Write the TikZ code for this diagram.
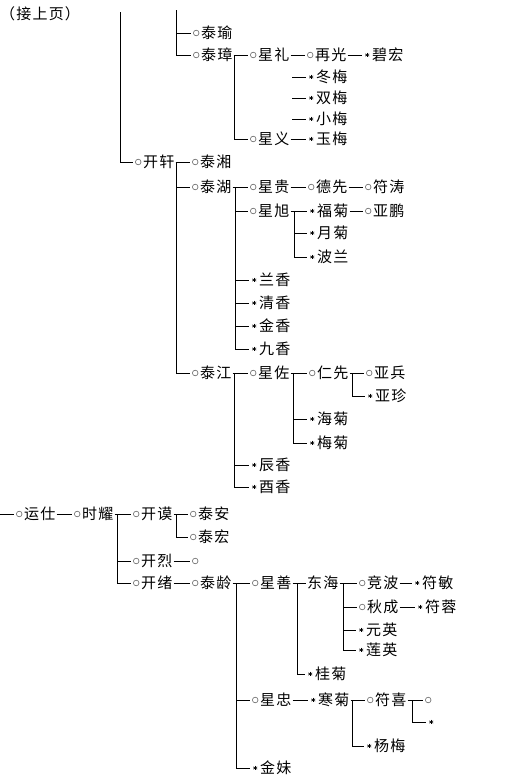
\documentclass[tikz,border=0pt]{standalone}
\usepackage{fontspec}
\usepackage{xcolor}
\usepackage{tikz}
\newfontfamily\cjk[LetterSpace=8]{Noto Sans CJK SC}
\definecolor{genInk}{HTML}{000000}
\definecolor{genRing}{HTML}{6E6E6E}
\newcommand{\mkgap}{\hspace*{9pt}}
\tikzset{
  gennode/.style={anchor=west,inner xsep=1pt,inner ysep=0pt,
                  text height=12.5pt,text depth=1.5pt,
                  font=\cjk\fontsize{15}{18}\selectfont,text=genInk},
  ringed/.style={gennode,path picture={
      \draw[genRing,line width=0.65pt]
        ([xshift=5pt]path picture bounding box.west) circle (2.8pt);}},
  starred/.style={gennode,path picture={
      \foreach \a in {90,30,150}
        \draw[genInk,line width=0.6pt]
          ([xshift=5pt]path picture bounding box.west) ++(\a:2.3pt)
          -- ++(\a+180:4.6pt);}},
  genline/.style={line width=0.9pt,genInk}
}

\begin{document}
\begin{tikzpicture}[x=1pt,y=-1pt]
    \useasboundingbox (0,0) rectangle (509,780);
    \node[gennode,inner xsep=0pt] (note) at (0,14) {（接上页）};

    \begin{scope}
      \coordinate (v1) at (120,12);
      \coordinate (v2) at (176,10);
      \node[ringed] (taiyu) at (191,33) {\mkgap 泰瑜};
      \node[ringed] (taizhang) at (191,55) {\mkgap 泰璋};
      \coordinate (b-taizhang) at (234,55);
      \node[ringed] (xingli) at (248,55) {\mkgap 星礼};
      \node[ringed] (xingyi) at (248,139) {\mkgap 星义};
      \node[ringed] (zaiguang) at (305,55) {\mkgap 再光};
      \node[starred] (bihong) at (362,55) {\mkgap 碧宏};
      \coordinate (d-dongmei) at (292,77);
      \coordinate (d-shuangmei) at (292,98);
      \coordinate (d-xiaomei) at (292,119);
      \node[starred] (dongmei) at (306,77) {\mkgap 冬梅};
      \node[starred] (shuangmei) at (306,98) {\mkgap 双梅};
      \node[starred] (xiaomei) at (306,119) {\mkgap 小梅};
      \node[starred] (yumei) at (306,139) {\mkgap 玉梅};
      \draw[genline] (v2) |- (taiyu.west);
      \draw[genline] (v2) |- (taizhang.west);
      \draw[genline] (taizhang.east) -- (xingli.west);
      \draw[genline] (b-taizhang) |- (xingyi.west);
      \draw[genline] (xingli.east) -- (zaiguang.west);
      \draw[genline] (zaiguang.east) -- (bihong.west);
      \draw[genline] (d-dongmei) -- (dongmei.west);
      \draw[genline] (d-shuangmei) -- (shuangmei.west);
      \draw[genline] (d-xiaomei) -- (xiaomei.west);
      \draw[genline] (xingyi.east) -- (yumei.west);
    \end{scope}

    \begin{scope}
      \node[ringed] (kaixuan) at (133,162) {\mkgap 开轩};
      \coordinate (b-kaixuan) at (176,162);
      \node[ringed] (taixiang) at (190,162) {\mkgap 泰湘};
      \node[ringed] (taihu) at (190,187) {\mkgap 泰湖};
      \node[ringed] (taijiang) at (190,373) {\mkgap 泰江};
      \coordinate (b-taihu) at (235,187);
      \node[ringed] (xinggui) at (248,187) {\mkgap 星贵};
      \node[ringed] (dexian) at (306,187) {\mkgap 德先};
      \node[ringed] (futao) at (363,187) {\mkgap 符涛};
      \node[ringed] (xingxu) at (248,211) {\mkgap 星旭};
      \coordinate (b-xingxu) at (294,211);
      \node[starred] (fuju) at (307,211) {\mkgap 福菊};
      \node[ringed] (yapeng) at (363,211) {\mkgap 亚鹏};
      \node[starred] (yueju) at (307,233) {\mkgap 月菊};
      \node[starred] (bolan) at (307,257) {\mkgap 波兰};
      \node[starred] (lanxiang) at (249,280) {\mkgap 兰香};
      \node[starred] (qingxiang) at (249,303) {\mkgap 清香};
      \node[starred] (jinxiang) at (249,326) {\mkgap 金香};
      \node[starred] (jiuxiang) at (249,349) {\mkgap 九香};
      \coordinate (b-taijiang) at (234,373);
      \node[ringed] (xingzuo) at (248,373) {\mkgap 星佐};
      \coordinate (b-xingzuo) at (293,373);
      \node[ringed] (renxian) at (307,373) {\mkgap 仁先};
      \coordinate (b-renxian) at (352,373);
      \node[ringed] (yabing) at (364,373) {\mkgap 亚兵};
      \node[starred] (yazhen) at (365,396) {\mkgap 亚珍};
      \node[starred] (haiju) at (307,419) {\mkgap 海菊};
      \node[starred] (meiju) at (307,443) {\mkgap 梅菊};
      \node[starred] (chenxiang) at (249,465) {\mkgap 辰香};
      \node[starred] (youxiang) at (249,487) {\mkgap 酉香};
      \draw[genline] (v1) |- (kaixuan.west);
      \draw[genline] (kaixuan.east) -- (taixiang.west);
      \draw[genline] (b-kaixuan) |- (taihu.west);
      \draw[genline] (b-kaixuan) |- (taijiang.west);
      \draw[genline] (taihu.east) -- (xinggui.west);
      \draw[genline] (xinggui.east) -- (dexian.west);
      \draw[genline] (dexian.east) -- (futao.west);
      \draw[genline] (b-taihu) |- (xingxu.west);
      \draw[genline] (xingxu.east) -- (fuju.west);
      \draw[genline] (fuju.east) -- (yapeng.west);
      \draw[genline] (b-xingxu) |- (yueju.west);
      \draw[genline] (b-xingxu) |- (bolan.west);
      \foreach \kid in {lanxiang,qingxiang,jinxiang,jiuxiang}
        \draw[genline] (b-taihu) |- (\kid.west);
      \draw[genline] (taijiang.east) -- (xingzuo.west);
      \draw[genline] (xingzuo.east) -- (renxian.west);
      \draw[genline] (renxian.east) -- (yabing.west);
      \draw[genline] (b-renxian) |- (yazhen.west);
      \draw[genline] (b-xingzuo) |- (haiju.west);
      \draw[genline] (b-xingzuo) |- (meiju.west);
      \draw[genline] (b-taijiang) |- (chenxiang.west);
      \draw[genline] (b-taijiang) |- (youxiang.west);
    \end{scope}

    \begin{scope}
      \coordinate (lead) at (0,514);
      \node[ringed] (yunshi) at (14,514) {\mkgap 运仕};
      \node[ringed] (shiyao) at (72,514) {\mkgap 时耀};
      \coordinate (b-shiyao) at (117,514);
      \node[ringed] (kaimo) at (131,514) {\mkgap 开谟};
      \coordinate (b-kaimo) at (176,514);
      \node[ringed] (taian) at (188,514) {\mkgap 泰安};
      \node[ringed] (taihong) at (188,537) {\mkgap 泰宏};
      \node[ringed] (kailie) at (131,561) {\mkgap 开烈};
      \node[ringed] (kailie1) at (190,561) {\mkgap};
      \node[ringed] (kaixu) at (131,583) {\mkgap 开绪};
      \node[ringed] (tailing) at (190,583) {\mkgap 泰龄};
      \coordinate (b-tailing) at (236,583);
      \node[ringed] (xingshan) at (250,583) {\mkgap 星善};
      \coordinate (b-xingshan) at (297,583);
      \node[gennode] (donghai) at (306,583) {东海};
      \coordinate (b-donghai) at (343,583);
      \node[ringed] (jingbo) at (357,583) {\mkgap 竞波};
      \node[starred] (fumin) at (412,583) {\mkgap 符敏};
      \node[ringed] (qiucheng) at (357,607) {\mkgap 秋成};
      \node[starred] (furong) at (415,607) {\mkgap 符蓉};
      \node[starred] (yuanying) at (356,630) {\mkgap 元英};
      \node[starred] (lianying) at (356,650) {\mkgap 莲英};
      \node[starred] (guiju) at (305,674) {\mkgap 桂菊};
      \node[ringed] (xingzhong) at (250,700) {\mkgap 星忠};
      \node[starred] (hanju) at (308,700) {\mkgap 寒菊};
      \coordinate (b-hanju) at (352,700);
      \node[ringed] (fuxi) at (365,700) {\mkgap 符喜};
      \coordinate (b-fuxi) at (412,700);
      \node[ringed] (fuxi1) at (423,700) {\mkgap};
      \node[starred] (fuxi2) at (426,722) {\mkgap};
      \node[starred] (yangmei) at (364,746) {\mkgap 杨梅};
      \node[starred] (jinmei) at (250,768) {\mkgap 金妹};
      \draw[genline] (lead) -- (yunshi.west);
      \draw[genline] (yunshi.east) -- (shiyao.west);
      \draw[genline] (shiyao.east) -- (kaimo.west);
      \draw[genline] (kaimo.east) -- (taian.west);
      \draw[genline] (b-kaimo) |- (taihong.west);
      \draw[genline] (b-shiyao) |- (kailie.west);
      \draw[genline] (b-shiyao) |- (kaixu.west);
      \draw[genline] (kailie.east) -- (kailie1.west);
      \draw[genline] (kaixu.east) -- (tailing.west);
      \draw[genline] (tailing.east) -- (xingshan.west);
      \draw[genline] (xingshan.east) -- (donghai.west);
      \draw[genline] (donghai.east) -- (jingbo.west);
      \draw[genline] (jingbo.east) -- (fumin.west);
      \draw[genline] (qiucheng.east) -- (furong.west);
      \foreach \kid in {qiucheng,yuanying,lianying}
        \draw[genline] (b-donghai) |- (\kid.west);
      \draw[genline] (b-xingshan) |- (guiju.west);
      \draw[genline] (b-tailing) |- (xingzhong.west);
      \draw[genline] (b-tailing) |- (jinmei.west);
      \draw[genline] (xingzhong.east) -- (hanju.west);
      \draw[genline] (hanju.east) -- (fuxi.west);
      \draw[genline] (b-hanju) |- (yangmei.west);
      \draw[genline] (fuxi.east) -- (fuxi1.west);
      \draw[genline] (b-fuxi) |- (fuxi2.west);
    \end{scope}
  \end{tikzpicture}
\end{document}
